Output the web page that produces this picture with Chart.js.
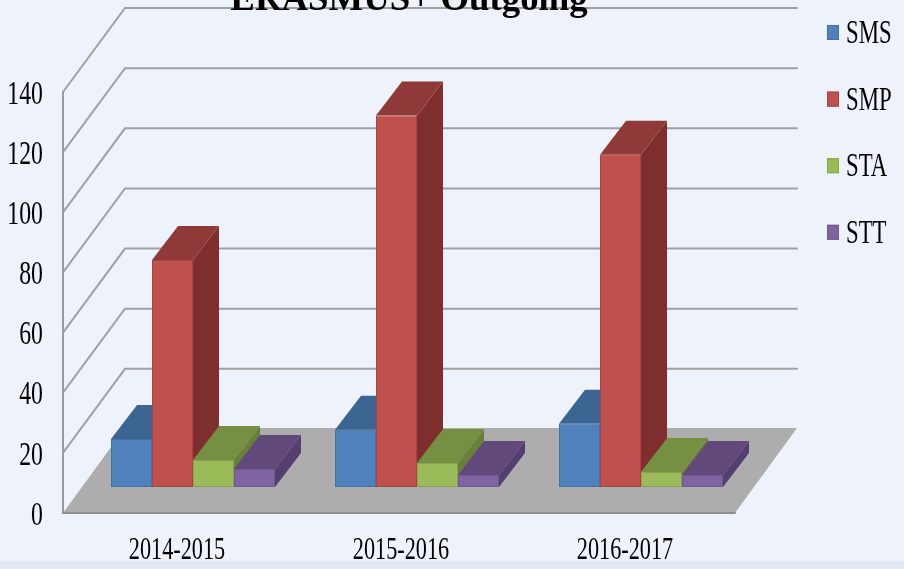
<!DOCTYPE html>
<html><head><meta charset="utf-8">
<style>
html,body{margin:0;padding:0;width:904px;height:569px;overflow:hidden;background:linear-gradient(#edf2fb 0,#edf2fb 560px,#dde5f1 563px,#e6ecf6 569px)}
canvas{display:block;filter:blur(.5px)}
</style>
<script src="https://cdn.jsdelivr.net/npm/chart.js@4/dist/chart.umd.min.js"></script>
</head><body>
<canvas id="c" width="904" height="569"></canvas>
<script>
const chartTitle = 'ERASMUS+ Outgoing';
const categories = ['2014-2015', '2015-2016', '2016-2017'];
const seriesNames = ['SMS', 'SMP', 'STA', 'STT'];
const sms = [16, 19, 21];
const smp = [75.5, 123.5, 110.5];
const sta = [9, 8, 5];
const stt = [6, 4, 4];
const frontColors = ['#4f81bd', '#c0504d', '#9bbb59', '#8064a2'];
const topColors = ['#3c6594', '#8f3a38', '#758f43', '#614a7b'];
const sideColors = ['#345883', '#7e2f2d', '#67803a', '#553f6e'];
const edgeColors = ['#44719f', '#a84543', '#88a54d', '#705890'];

const FONT = '"Liberation Serif", serif';
const WALL = {dx: 62, dy: -84};
const BAR_DEPTH = {dx: 26, dy: -34};
const BAR_SHIFT = {dx: 18, dy: -26};

function squeezed(ctx, text, x, y, align, size, squeeze) {
  ctx.save();
  ctx.translate(x, y);
  ctx.scale(squeeze, 1);
  ctx.font = size + 'px ' + FONT;
  ctx.fillStyle = '#000';
  ctx.textAlign = align;
  ctx.textBaseline = 'middle';
  ctx.fillText(text, 0, 0);
  ctx.restore();
}
function poly(ctx, pts, fill) {
  ctx.beginPath();
  pts.forEach((p, i) => i ? ctx.lineTo(p[0], p[1]) : ctx.moveTo(p[0], p[1]));
  ctx.closePath();
  ctx.fillStyle = fill;
  ctx.fill();
}

const scene3d = {
  id: 'scene3d',
  beforeDatasetsDraw(chart) {
    const {ctx, scales: {x, y}, chartArea: a} = chart;
    ctx.save();
    ctx.lineCap = 'round';
    // left wall axis
    ctx.strokeStyle = '#9b9b9b';
    ctx.lineWidth = 2;
    ctx.beginPath();
    ctx.moveTo(a.left, y.getPixelForValue(y.max));
    ctx.lineTo(a.left, y.getPixelForValue(0));
    ctx.stroke();
    // floor
    const y0 = y.getPixelForValue(0);
    poly(ctx, [[a.left, y0], [a.right, y0], [a.right + WALL.dx, y0 + WALL.dy - 1], [a.left + WALL.dx, y0 + WALL.dy - 1]], '#adadad');
    ctx.strokeStyle = '#8e8e8e';
    ctx.beginPath();
    ctx.moveTo(a.left, y0);
    ctx.lineTo(a.right, y0);
    ctx.stroke();
    // grid
    y.ticks.forEach(t => {
      if (t.value === 0) return;
      const py = y.getPixelForValue(t.value);
      ctx.strokeStyle = '#a0a0a0';
      ctx.lineWidth = 2;
      ctx.beginPath();
      ctx.moveTo(a.left, py);
      ctx.lineTo(a.left + WALL.dx, py + WALL.dy);
      ctx.lineTo(a.right + WALL.dx, py + WALL.dy);
      ctx.stroke();
    });
    ctx.restore();
    // axis labels
    y.ticks.forEach(t => squeezed(ctx, t.label, a.left - 20, y.getPixelForValue(t.value) + 3, 'right', 33, 0.72));
    categories.forEach((c, i) => squeezed(ctx, c, x.getPixelForTick(i) + 2, 551, 'center', 32, 0.695));
  },
  beforeDatasetDraw() { return false; },
  afterDatasetsDraw(chart) {
    const {ctx} = chart;
    const d = BAR_DEPTH;
    ctx.save();
    ctx.translate(BAR_SHIFT.dx, BAR_SHIFT.dy);
    chart.data.datasets.forEach((ds, di) => {
      chart.getDatasetMeta(di).data.forEach(el => {
        const l = el.x - el.width / 2, r = el.x + el.width / 2, t = el.y, b = el.base;
        poly(ctx, [[r, t], [r + d.dx, t + d.dy], [r + d.dx, b + d.dy], [r, b]], sideColors[di]);
        poly(ctx, [[l, t], [l + d.dx, t + d.dy], [r + d.dx, t + d.dy], [r, t]], topColors[di]);
        el.draw(ctx);
      });
    });
    ctx.restore();
    // title
    ctx.save();
    ctx.font = 'bold 36.8px ' + FONT;
    ctx.fillStyle = '#000';
    ctx.textAlign = 'center';
    ctx.textBaseline = 'alphabetic';
    ctx.fillText(chartTitle, 409, 10);
    ctx.restore();
    // legend
    seriesNames.forEach((n, i) => {
      const cy = 33 + i * 66.6;
      ctx.fillStyle = frontColors[i];
      ctx.strokeStyle = edgeColors[i];
      ctx.lineWidth = 1;
      ctx.fillRect(827, cy - 8, 12, 15);
      ctx.strokeRect(827.5, cy - 7.5, 11, 14);
      squeezed(ctx, n, 846, cy + 1.5, 'left', 33, 0.69);
    });
  }
};

new Chart(document.getElementById('c'), {
  type: 'bar',
  data: {
    labels: categories,
    datasets: [sms, smp, sta, stt].map((v, i) => ({
      label: seriesNames[i],
      data: v,
      backgroundColor: frontColors[i],
      borderColor: edgeColors[i],
      borderWidth: 1,
      borderSkipped: false,
      categoryPercentage: 0.732,
      barPercentage: 1
    }))
  },
  options: {
    responsive: false,
    animation: false,
    layout: {padding: {left: 63, right: 169, top: 92, bottom: 56}},
    plugins: {legend: {display: false}, title: {display: false}, tooltip: {enabled: false}},
    scales: {
      x: {grid: {display: false, drawTicks: false}, border: {display: false}, ticks: {display: false, padding: 0}},
      y: {min: 0, max: 140, grid: {display: false, drawTicks: false}, border: {display: false}, ticks: {display: false, padding: 0, stepSize: 20}}
    }
  },
  plugins: [scene3d]
});
</script>
</body></html>
